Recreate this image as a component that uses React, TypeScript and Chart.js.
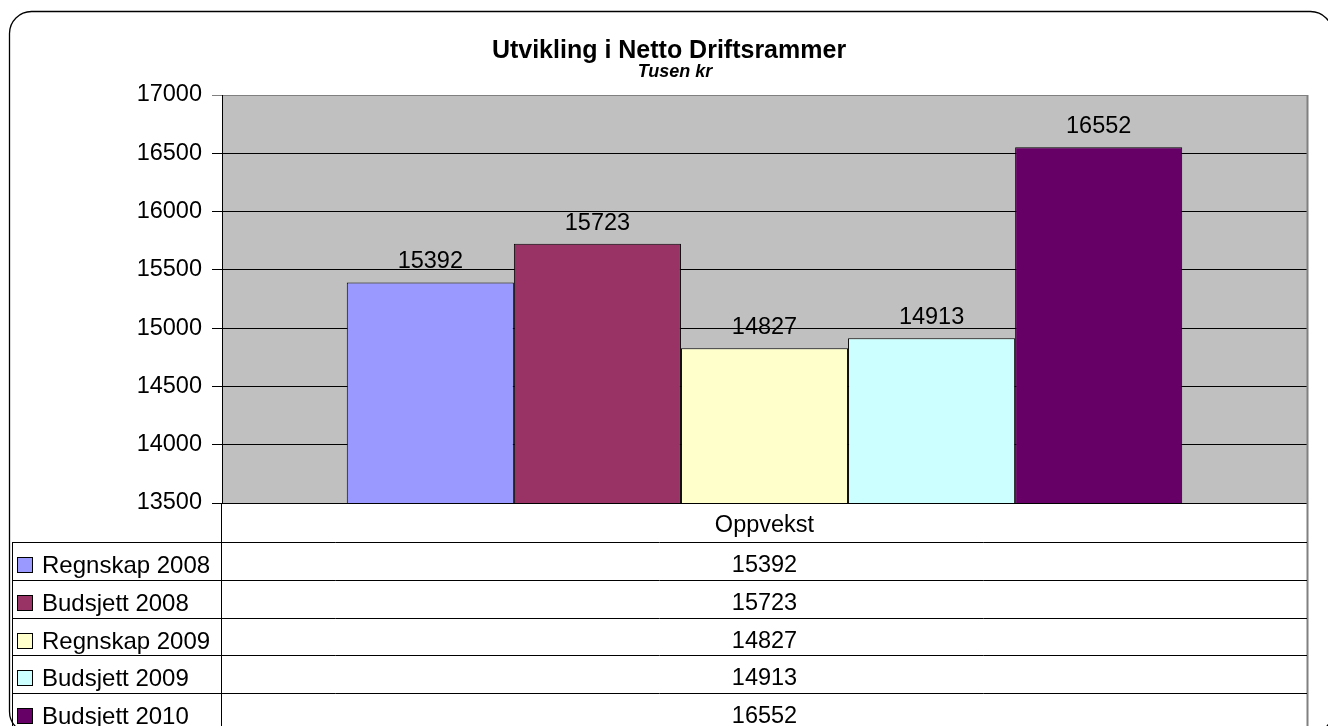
import React, { useEffect, useRef } from "react";
import { Chart, registerables } from "chart.js";

Chart.register(...registerables);

const categories = ["Oppvekst"];
const seriesNames = ["Regnskap 2008", "Budsjett 2008", "Regnskap 2009", "Budsjett 2009", "Budsjett 2010"];
const seriesValues = [15392, 15723, 14827, 14913, 16552];
const seriesColors = ["#9999FF", "#993366", "#FFFFCC", "#CCFFFF", "#660066"];
const titleText = "Utvikling i Netto Driftsrammer";
const subtitleText = "Tusen kr";
const yMin = 13500;
const yMax = 17000;
const yStep = 500;

const FONT = "'Liberation Sans', Arial, sans-serif";
const TXT = 23.5;

const decorPlugin = {
  id: "decor",
  beforeDraw(chart: any) {
    const { ctx, chartArea } = chart;
    ctx.save();
    ctx.fillStyle = "#ffffff";
    ctx.fillRect(0, 0, chart.width, chart.height);
    ctx.fillStyle = "#C0C0C0";
    ctx.fillRect(chartArea.left, chartArea.top, chartArea.right - chartArea.left, chartArea.bottom - chartArea.top);
    ctx.restore();
  },
  afterDatasetsDraw(chart: any) {
    const { ctx } = chart;
    ctx.save();
    ctx.font = `${TXT}px ${FONT}`;
    ctx.fillStyle = "#000";
    ctx.textAlign = "center";
    ctx.textBaseline = "alphabetic";
    chart.data.datasets.forEach((ds: any, i: number) => {
      const meta = chart.getDatasetMeta(i);
      meta.data.forEach((bar: any, j: number) => {
        ctx.fillText(String(ds.data[j]), bar.x, bar.y - 14);
      });
    });
    ctx.restore();
  },
  afterDraw(chart: any) {
    const { ctx, chartArea } = chart;
    const left = chartArea.left;
    const right = chartArea.right;
    const bottom = chartArea.bottom;
    const cx = (left + right) / 2;
    ctx.save();

    // title
    ctx.fillStyle = "#000";
    ctx.textAlign = "center";
    ctx.textBaseline = "alphabetic";
    ctx.font = `bold 25px ${FONT}`;
    ctx.fillText(titleText, 669, 58);
    ctx.font = `italic bold 18px ${FONT}`;
    ctx.fillText(subtitleText, 675, 77);

    // right plot border (grey) extending through table
    ctx.strokeStyle = "#808080";
    ctx.lineWidth = 2;
    ctx.beginPath();
    ctx.moveTo(right + 0.5, chartArea.top);
    ctx.lineTo(right + 0.5, chart.height);
    ctx.stroke();

    // table
    ctx.strokeStyle = "#000";
    ctx.lineWidth = 1;
    ctx.beginPath();
    ctx.moveTo(left - 0.5, bottom);
    ctx.lineTo(left - 0.5, chart.height);
    ctx.stroke();

    ctx.font = `${TXT}px ${FONT}`;
    ctx.textAlign = "center";
    ctx.fillText(categories[0], cx, bottom + 29);

    const rowTop0 = bottom + 39;
    const rowH = 37.75;
    ctx.beginPath();
    ctx.moveTo(12.5, rowTop0);
    ctx.lineTo(12.5, chart.height);
    ctx.stroke();

    seriesNames.forEach((name, i) => {
      const top = rowTop0 + i * rowH;
      const ty = Math.round(top) + 0.5;
      ctx.strokeStyle = "#000";
      ctx.lineWidth = 1;
      ctx.beginPath();
      ctx.moveTo(12, ty);
      ctx.lineTo(right, ty);
      ctx.stroke();
      // swatch
      ctx.fillStyle = seriesColors[i];
      ctx.fillRect(17.5, Math.round(top) + 15.5, 15, 15);
      ctx.strokeRect(17.5, Math.round(top) + 15.5, 15, 15);
      ctx.fillStyle = "#000";
      ctx.textAlign = "left";
      ctx.font = `24px ${FONT}`;
      ctx.fillText(name, 42, top + 31);
      ctx.font = `${TXT}px ${FONT}`;
      ctx.textAlign = "center";
      ctx.fillText(String(seriesValues[i]), cx, top + 30);
    });

    // outer rounded frame
    ctx.strokeStyle = "#000";
    ctx.lineWidth = 1.3;
    ctx.beginPath();
    ctx.roundRect(9.5, 11.5, 1323, 722, 22);
    ctx.stroke();
    ctx.restore();
  },
};

export default function App() {
  const ref = useRef<HTMLCanvasElement | null>(null);
  useEffect(() => {
    if (!ref.current) return;
    const chart = new Chart(ref.current, {
      type: "bar",
      data: {
        labels: categories,
        datasets: seriesNames.map((name, i) => ({
          label: name,
          data: [seriesValues[i]],
          backgroundColor: seriesColors[i],
          borderColor: "#000",
          borderWidth: 1,
          barPercentage: 1,
          categoryPercentage: 0.77,
        })),
      },
      options: {
        animation: false,
        responsive: false,
        devicePixelRatio: 1,
        layout: { padding: { top: 95, bottom: 223, left: 0, right: 21 } },
        plugins: {
          legend: { display: false },
          title: { display: false },
          tooltip: { enabled: false },
        },
        scales: {
          x: { display: false },
          y: {
            min: yMin,
            max: yMax,
            afterFit(scale: any) {
              scale.width = 222;
            },
            ticks: {
              stepSize: yStep,
              color: "#000",
              padding: 10,
              font: { family: FONT, size: TXT },
              callback: (v: any) => String(v),
            },
            grid: {
              color: (c: any) => (c.tick && c.tick.value === yMax ? "#808080" : "#000"),
              lineWidth: 1,
              tickLength: 10,
              drawTicks: true,
            },
            border: { display: true, color: "#000", width: 1 },
          },
        },
      },
      plugins: [decorPlugin],
    });
    return () => chart.destroy();
  }, []);
  return (
    <div style={{ position: "absolute", left: 0, top: 0, width: 1328, height: 726 }}>
      <canvas ref={ref} width={1328} height={726} style={{ display: "block", width: 1328, height: 726 }} />
    </div>
  );
}
